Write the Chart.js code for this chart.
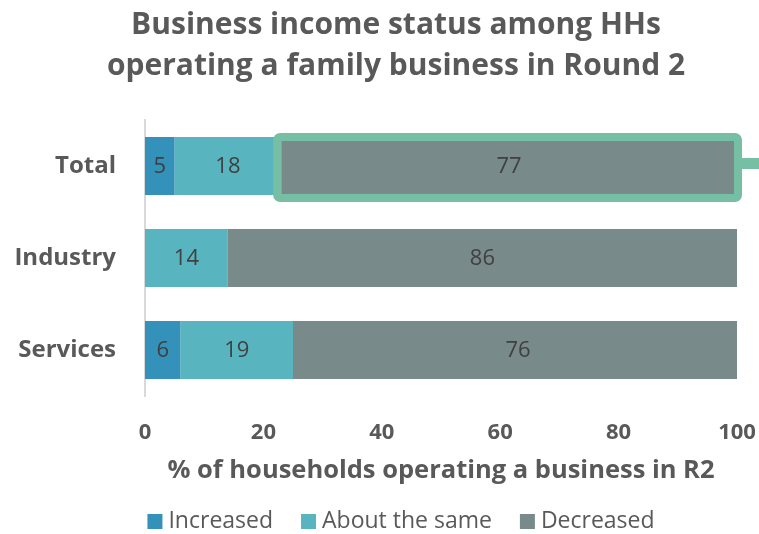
<!DOCTYPE html>
<html>
<head>
<meta charset="utf-8">
<script src="https://cdn.jsdelivr.net/npm/chart.js@4.4.0/dist/chart.umd.min.js"></script>
<style>
  html, body { margin: 0; padding: 0; background: #ffffff; }
  #wrap { width: 759px; height: 534px; position: relative; }
</style>
</head>
<body>
<div id="wrap"><canvas id="c" width="759" height="534"></canvas></div>
<script>
// ---- Data ----
const titleLines = ['Business income status among HHs', 'operating a family business in Round 2'];
const categories = ['Total', 'Industry', 'Services'];
const seriesNames = ['Increased', 'About the same', 'Decreased'];
const increased = [5, 0, 6];
const aboutSame = [18, 14, 19];
const decreased = [77, 86, 76];
const xTicks = [0, 20, 40, 60, 80, 100];
const xAxisTitle = '% of households operating a business in R2';
const highlightCategory = 'Total';
const highlightSeries = 'Decreased';

// ---- Styles ----
const colors = ['#3391BA', '#58B5BF', '#798A8B'];
const textGray = '#595959';
const labelColor = '#404040';
const highlightColor = '#76BEA4';
const FONT = "'Open Sans', 'Noto Sans', sans-serif";

const titlePlugin = {
  id: 'customTitle',
  afterDraw(chart) {
    const ctx = chart.ctx;
    ctx.save();
    ctx.fillStyle = textGray;
    ctx.font = 'bold 30px ' + FONT;
    ctx.textAlign = 'center';
    ctx.textBaseline = 'alphabetic';
    ctx.fillText(titleLines[0], 396, 34);
    ctx.fillText(titleLines[1], 396, 75);
    ctx.restore();
  }
};

const highlightPlugin = {
  id: 'highlight',
  afterDatasetsDraw(chart) {
    const ctx = chart.ctx;
    const di = seriesNames.indexOf(highlightSeries);
    const ci = categories.indexOf(highlightCategory);
    const el = chart.getDatasetMeta(di).data[ci];
    const p = el.getProps(['x', 'y', 'base', 'height'], true);
    const left = Math.min(p.x, p.base) - 4;
    const right = Math.max(p.x, p.base) + 1;
    const top = p.y - p.height / 2;
    const bottom = p.y + p.height / 2 + 3;
    ctx.save();
    ctx.strokeStyle = highlightColor;
    ctx.lineWidth = 8;
    ctx.lineJoin = 'round';
    ctx.beginPath();
    if (ctx.roundRect) ctx.roundRect(left, top, right - left, bottom - top, 3);
    else ctx.rect(left, top, right - left, bottom - top);
    ctx.stroke();
    ctx.fillStyle = highlightColor;
    ctx.fillRect(right + 4, p.y - 8, chart.width - right - 4, 11);
    ctx.restore();
  }
};

const labelsPlugin = {
  id: 'barLabels',
  afterDatasetsDraw(chart) {
    const ctx = chart.ctx;
    ctx.save();
    ctx.font = '22px ' + FONT;
    ctx.fillStyle = labelColor;
    ctx.textAlign = 'center';
    ctx.textBaseline = 'middle';
    chart.data.datasets.forEach((ds, di) => {
      const meta = chart.getDatasetMeta(di);
      meta.data.forEach((el, i) => {
        const v = ds.data[i];
        if (!v) return;
        const c = el.getCenterPoint();
        ctx.fillText(String(v), c.x, c.y + 1);
      });
    });
    ctx.restore();
  }
};

const legendPlugin = {
  id: 'customLegend',
  afterDraw(chart) {
    const ctx = chart.ctx;
    ctx.save();
    ctx.font = '23px ' + FONT;
    const box = 15, gapBox = 6, gapItem = 28;
    const widths = seriesNames.map(n => box + gapBox + ctx.measureText(n).width);
    const total = widths.reduce((a, b) => a + b, 0) + gapItem * (widths.length - 1);
    let x = 401 - total / 2;
    const cy = 521.5;
    seriesNames.forEach((n, i) => {
      ctx.fillStyle = colors[i];
      ctx.fillRect(x, cy - box / 2, box, box);
      ctx.fillStyle = textGray;
      ctx.textAlign = 'left';
      ctx.textBaseline = 'middle';
      ctx.fillText(n, x + box + gapBox, cy);
      x += widths[i] + gapItem;
    });
    ctx.restore();
  }
};

const seriesData = [increased, aboutSame, decreased];

new Chart(document.getElementById('c'), {
  type: 'bar',
  data: {
    labels: categories,
    datasets: seriesNames.map((n, i) => ({
      label: n,
      data: seriesData[i],
      backgroundColor: colors[i],
      borderWidth: 0,
      categoryPercentage: 1.0,
      barPercentage: 0.63
    }))
  },
  options: {
    indexAxis: 'y',
    responsive: false,
    animation: false,
    devicePixelRatio: 1,
    layout: { padding: { top: 120, right: 22, bottom: 48, left: 0 } },
    plugins: {
      legend: { display: false },
      title: { display: false },
      tooltip: { enabled: false }
    },
    scales: {
      x: {
        stacked: true,
        min: 0,
        max: 100,
        afterBuildTicks(scale) { scale.ticks = xTicks.map(v => ({ value: v })); },
        afterFit(scale) { scale.height = 90; scale.paddingLeft = 0; scale.paddingRight = 0; },
        grid: { display: false, drawTicks: false, tickLength: 0 },
        border: { display: false },
        ticks: {
          padding: 24,
          maxRotation: 0,
          color: textGray,
          font: { family: FONT, size: 22, weight: 'bold' }
        },
        title: {
          display: true,
          text: xAxisTitle,
          color: textGray,
          font: { family: FONT, size: 25.5, weight: 'bold' },
          padding: { top: 10, bottom: 0 }
        }
      },
      y: {
        stacked: true,
        afterFit(scale) { scale.width = 145; scale.paddingTop = 0; scale.paddingBottom = 0; },
        grid: { display: false, drawTicks: false, tickLength: 0 },
        border: { display: true, color: '#D9D9D9', width: 2 },
        ticks: {
          padding: 29,
          color: textGray,
          font: { family: FONT, size: 24, weight: 'bold' }
        }
      }
    }
  },
  plugins: [highlightPlugin, labelsPlugin, titlePlugin, legendPlugin]
});
</script>
</body>
</html>
